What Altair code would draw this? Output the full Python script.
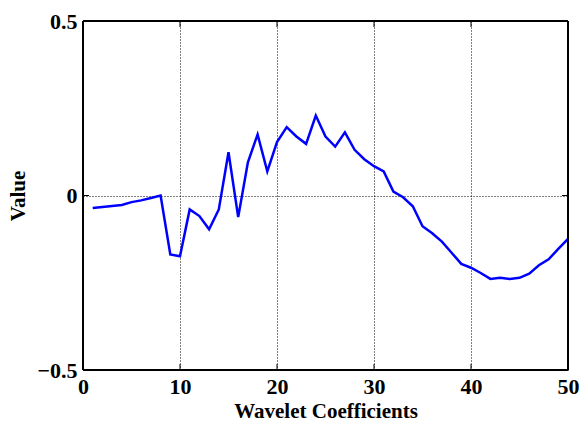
import altair as alt
import pandas as pd

coef = list(range(1, 51))
values = [-0.036, -0.033, -0.030, -0.027, -0.019, -0.014, -0.007, 0.000, -0.169, -0.174,
          -0.040, -0.059, -0.097, -0.040, 0.124, -0.062, 0.095, 0.175, 0.069, 0.153,
          0.196, 0.169, 0.148, 0.229, 0.169, 0.140, 0.181, 0.131, 0.104, 0.084,
          0.069, 0.011, -0.005, -0.031, -0.088, -0.108, -0.132, -0.164, -0.196, -0.207,
          -0.222, -0.239, -0.236, -0.239, -0.236, -0.224, -0.200, -0.183, -0.153, -0.124]
x_ticks = [0, 10, 20, 30, 40, 50]
y_ticks = [-0.5, 0, 0.5]

df = pd.DataFrame({"x": coef, "y": values})

FONT = "Liberation Serif"
W, H = 485, 349

xscale = alt.Scale(domain=[0, 50], nice=False, zero=False)
yscale = alt.Scale(domain=[-0.5, 0.5], nice=False, zero=False)

line = alt.Chart(df).mark_line(color="#0000FF", strokeWidth=2.5).encode(
    x=alt.X("x:Q", scale=xscale, title="Wavelet Coefficients",
            axis=alt.Axis(values=x_ticks, format="d", grid=True, gridColor="black",
                          gridDash=[1, 2], gridWidth=1, domain=False, ticks=False,
                          labelFont=FONT, labelFontSize=22, labelFontWeight="bold",
                          labelColor="black", labelPadding=6, titleFont=FONT,
                          titleFontSize=21, titleFontWeight="bold", titleColor="black",
                          titlePadding=3, labelFlush=False)),
    y=alt.Y("y:Q", scale=yscale, title="Value",
            axis=alt.Axis(values=y_ticks, grid=True, gridColor="black",
                          gridDash=[1, 2], gridWidth=1, domain=False, ticks=False,
                          labelExpr="datum.value == 0 ? '0' : format(datum.value, '.1f')",
                          labelFont=FONT, labelFontSize=22, labelFontWeight="bold",
                          labelColor="black", labelPadding=6, titleFont=FONT,
                          titleFontSize=21, titleFontWeight="bold", titleColor="black",
                          titlePadding=8, labelFlush=False)),
)

one = pd.DataFrame({"k": [0]})
frame = [
    alt.Chart(one).mark_rule(color="black", strokeWidth=2).encode(
        x=alt.value(0), x2=alt.value(W), y=alt.value(0)),
    alt.Chart(one).mark_rule(color="black", strokeWidth=2).encode(
        x=alt.value(0), x2=alt.value(W), y=alt.value(H)),
    alt.Chart(one).mark_rule(color="black", strokeWidth=2).encode(
        y=alt.value(0), y2=alt.value(H), x=alt.value(0)),
    alt.Chart(one).mark_rule(color="black", strokeWidth=2).encode(
        y=alt.value(0), y2=alt.value(H), x=alt.value(W)),
]

xt = pd.DataFrame({"t": [10, 20, 30, 40]})
bottom_ticks = alt.Chart(xt).mark_rule(color="black", strokeWidth=1).encode(
    x=alt.X("t:Q", scale=xscale), y=alt.value(H), y2=alt.value(H - 6))
top_ticks = alt.Chart(xt).mark_rule(color="black", strokeWidth=1).encode(
    x=alt.X("t:Q", scale=xscale), y=alt.value(0), y2=alt.value(6))
yt = pd.DataFrame({"t": [0]})
left_ticks = alt.Chart(yt).mark_rule(color="black", strokeWidth=1).encode(
    y=alt.Y("t:Q", scale=yscale), x=alt.value(0), x2=alt.value(6))
right_ticks = alt.Chart(yt).mark_rule(color="black", strokeWidth=1).encode(
    y=alt.Y("t:Q", scale=yscale), x=alt.value(W), x2=alt.value(W - 6))

chart = alt.layer(line, bottom_ticks, top_ticks, left_ticks, right_ticks, *frame).properties(
    width=W, height=H,
    autosize=alt.AutoSizeParams(type="none"),
    padding={"left": 83, "top": 21, "right": 20, "bottom": 56},
).configure_view(stroke=None).configure(background="white")

chart.save("out.html", embed_options={"renderer": "svg", "actions": False})
